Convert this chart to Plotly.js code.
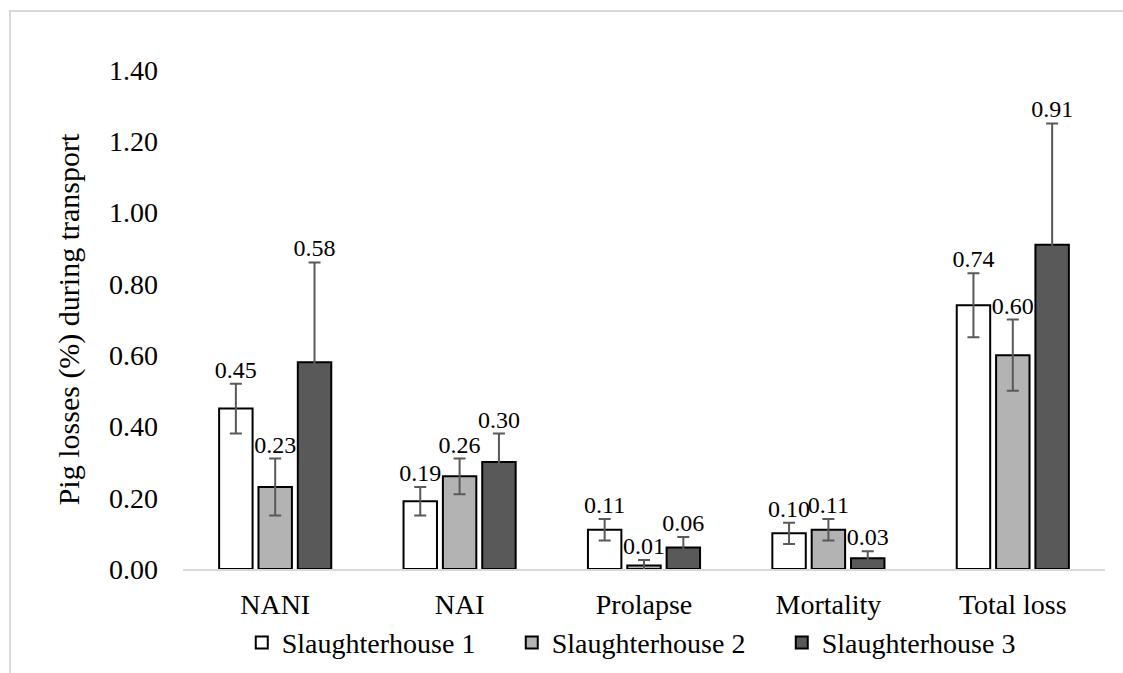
<!DOCTYPE html>
<html>
<head>
<meta charset="utf-8">
<script src="https://cdn.plot.ly/plotly-3.0.1.min.js"></script>
<style>
  html, body { margin: 0; padding: 0; background: #fff; }
  #wrap { position: relative; width: 1123px; height: 673px; }
  #chart { position: absolute; left: 0; top: 0; width: 1123px; height: 673px; }
  #frame { position: absolute; left: 9px; top: 10px; right: 0; bottom: 0;
           border-top: 2px solid #d9d9d9; border-left: 2px solid #d9d9d9; pointer-events: none; }
</style>
</head>
<body>
<div id="wrap"><div id="chart"></div><div id="frame"></div></div>
<script>
const categories = ["NANI", "NAI", "Prolapse", "Mortality", "Total loss"];
const seriesNames = ["Slaughterhouse 1", "Slaughterhouse 2", "Slaughterhouse 3"];
const sh1 = [0.45, 0.19, 0.11, 0.10, 0.74];
const sh2 = [0.23, 0.26, 0.01, 0.11, 0.60];
const sh3 = [0.58, 0.30, 0.06, 0.03, 0.91];
const sh1Err = [0.07, 0.04, 0.03, 0.03, 0.09];
const sh2Err = [0.08, 0.05, 0.015, 0.03, 0.10];
const sh3Err = [0.28, 0.08, 0.03, 0.02, 0.34];
const yTickVals = [0, 0.2, 0.4, 0.6, 0.8, 1.0, 1.2, 1.4];
const yTickText = ["0.00", "0.20", "0.40", "0.60", "0.80", "1.00", "1.20", "1.40"];

const values = [sh1, sh2, sh3];
const errors = [sh1Err, sh2Err, sh3Err];
const fills = ["#ffffff", "#b3b3b3", "#595959"];
const FONT = "Liberation Serif, Times New Roman, serif";

const traces = [];
values.forEach((v, i) => {
  traces.push({
    type: "bar", name: seriesNames[i], x: categories, y: v,
    offsetgroup: "g" + i, alignmentgroup: "a",
    marker: { color: fills[i], line: { color: "#000000", width: 2 } },
    error_y: { type: "data", array: errors[i], visible: true, color: "#595959", thickness: 2, width: 6 },
    hoverinfo: "skip"
  });
});
values.forEach((v, i) => {
  traces.push({
    type: "scatter", mode: "text", showlegend: false,
    x: categories, y: v.map((d, k) => d + errors[i][k]),
    offsetgroup: "g" + i, alignmentgroup: "a",
    text: v.map(d => d.toFixed(2)), textposition: "top center",
    textfont: { family: FONT, size: 24, color: "#000000" },
    cliponaxis: false, hoverinfo: "skip"
  });
});

const layout = {
  width: 1123, height: 673,
  margin: { l: 183, r: 18, t: 70, b: 104 },
  paper_bgcolor: "rgba(0,0,0,0)", plot_bgcolor: "rgba(0,0,0,0)",
  barmode: "group", bargap: 0.36, bargroupgap: 0.15,
  scattermode: "group", scattergap: 0.36,
  font: { family: FONT, size: 28, color: "#000000" },
  showlegend: true,
  legend: {
    orientation: "h", x: 0.503, xanchor: "center",
    yref: "container", y: 0.045, yanchor: "middle",
    font: { family: FONT, size: 28, color: "#000000" },
    entrywidth: 225, entrywidthmode: "pixels", itemwidth: 30,
    traceorder: "normal"
  },
  xaxis: {
    type: "category", showline: true, linecolor: "#d9d9d9", linewidth: 2,
    showgrid: false, zeroline: false, ticks: "", ticklabelstandoff: 9,
    automargin: false,
    tickfont: { family: FONT, size: 28, color: "#000000" }, layer: "below traces"
  },
  yaxis: {
    range: [0, 1.4], tickvals: yTickVals, ticktext: yTickText,
    showline: false, showgrid: false, zeroline: false, ticks: "",
    ticklabelstandoff: 24, automargin: false,
    tickfont: { family: FONT, size: 28, color: "#000000" },
    title: { text: "Pig losses (%) during transport", font: { family: FONT, size: 30, color: "#000000" }, standoff: 20 }
  }
};

Plotly.newPlot("chart", traces, layout, { staticPlot: true });
</script>
</body>
</html>
